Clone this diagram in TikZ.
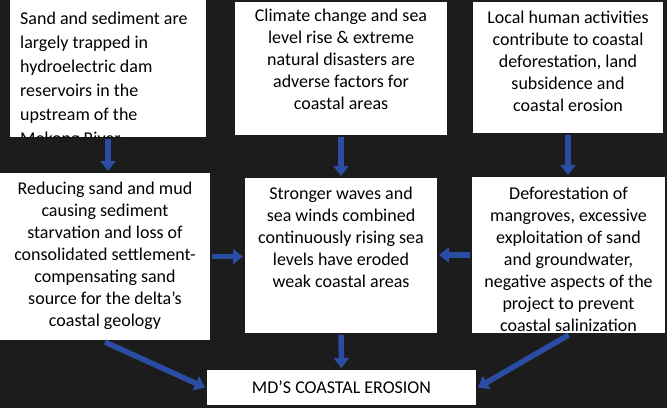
\documentclass[tikz,border=0pt]{standalone}
\usepackage{fontspec}
\setmainfont{Carlito}
\usetikzlibrary{arrows.meta}
\definecolor{bg}{RGB}{28,28,28}
\definecolor{arr}{RGB}{42,76,162}
\begin{document}
\begin{tikzpicture}[x=1pt,y=-1pt,
 box/.style={fill=white,draw=none,inner sep=0pt,outer sep=2pt},
 txt/.style={font=\fontsize{18}{22}\selectfont, align=center, inner sep=0pt, text=black},
 flow/.style={draw=arr, line width=5.5pt, -{Triangle[width=15pt,length=10pt]}}]
\fill[bg] (0,0) rectangle (667,408);
\useasboundingbox (0,0) rectangle (667,408);
\node[box,minimum width=196pt,minimum height=137pt] (tl) at (108,68.5) {};
\node[box,minimum width=212pt,minimum height=133pt] (tm) at (341,68.5) {};
\node[box,minimum width=190pt,minimum height=131pt] (tr) at (568,67.5) {};
\node[box,minimum width=210pt,minimum height=167pt] (ml) at (105,256.5) {};
\node[box,minimum width=192pt,minimum height=155pt] (mm) at (341,255.5) {};
\node[box,minimum width=193pt,minimum height=156pt] (mr) at (568.5,255) {};
\node[box,minimum width=269pt,minimum height=35pt] (bt) at (341.5,387.5) {};
\begin{scope}
\clip (10,0) rectangle (206,137);
\node[txt,font=\fontsize{18}{24}\selectfont,align=left,anchor=north west] (tltext) at (20,11.5) {Sand and sediment are\\ largely trapped in\\ hydroelectric dam\\ reservoirs in the\\ upstream of the\\ Mekong River};
\end{scope}
\node[txt,anchor=north] (tmtext) at (341,8.5) {Climate change and sea\\ level rise \& extreme\\ natural disasters are\\ adverse factors for\\ coastal areas};
\node[txt,anchor=north] (trtext) at (568,10.5) {Local human activities\\ contribute to coastal\\ deforestation, land\\ subsidence and\\ coastal erosion};
\node[txt] (mltext) at (105,256) {Reducing sand and mud\\ causing sediment\\ starvation and loss of\\ consolidated settlement-\\ compensating sand\\ source for the delta's\\ coastal geology};
\node[txt,anchor=north] (mmtext) at (341,186.5) {Stronger waves and\\ sea winds combined\\ continuously rising sea\\ levels have eroded\\ weak coastal areas};
\node[txt] (mrtext) at (568.5,259) {Deforestation of\\ mangroves, excessive\\ exploitation of sand\\ and groundwater,\\ negative aspects of the\\ project to prevent\\ coastal salinization};
\node[txt] (bttext) at (341.5,387.5) {MD’S COASTAL EROSION};
\draw[flow] (tl.south) -- (tl.south |- ml.north);
\draw[flow] (tm.south) -- (mm.north);
\draw[flow] (tr.south) -- (tr.south |- mr.north);
\draw[flow] (ml.east) -- (ml.east -| mm.west);
\draw[flow] (mr.west) -- (mr.west -| mm.east);
\draw[flow] (ml.south) -- (bt.west);
\draw[flow] (mm.south) -- (bt.north);
\draw[flow] (mr.south) -- (bt.east);
\end{tikzpicture}
\end{document}
